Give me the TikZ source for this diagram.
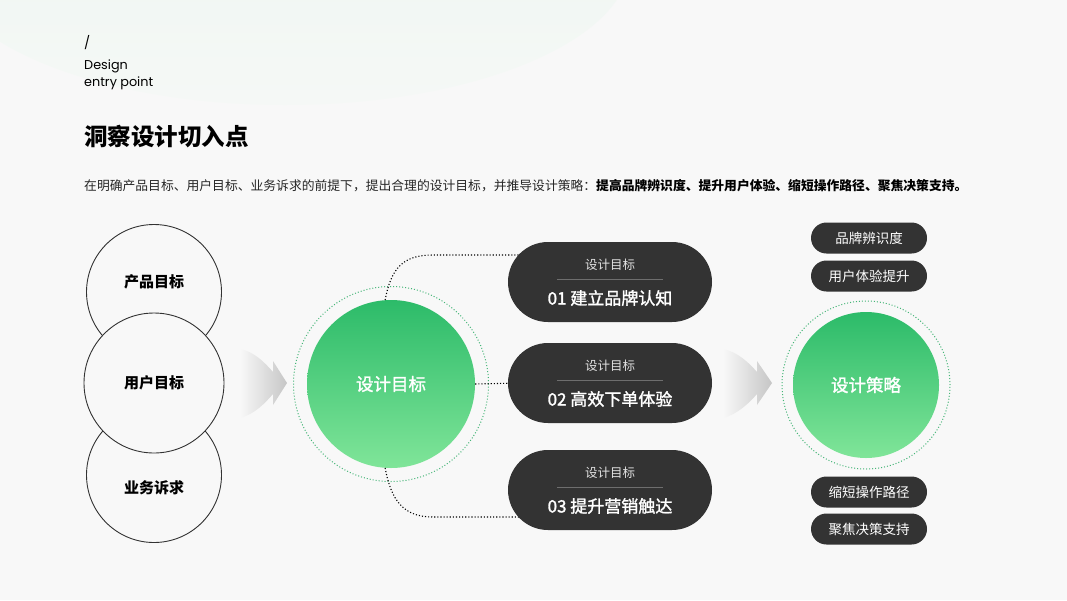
\documentclass[tikz,border=0pt]{standalone}
\usepackage{fontspec}
\setmainfont{Noto Sans CJK SC}
\newfontfamily\enfont{Poppins}
\newfontfamily\medfont{Noto Sans CJK SC}[FakeBold=1.6]
\usetikzlibrary{calc,shapes.misc}
\definecolor{bg}{HTML}{F8F8F8}
\definecolor{pill}{HTML}{333333}
\definecolor{gtop}{HTML}{2CBB69}
\definecolor{gbot}{HTML}{80E599}
\definecolor{ringc}{HTML}{45B577}
\definecolor{blobtop}{HTML}{ECF6EF}
\definecolor{blobbot}{HTML}{F5F8F6}
\definecolor{lc}{HTML}{333333}
\definecolor{pillsub}{HTML}{E2E2E2}
\definecolor{sepc}{HTML}{6E6E6E}
\definecolor{arrowc}{HTML}{C6C6C6}
\begin{document}
\begin{tikzpicture}[x=1pt,y=-1pt,
  lcircle/.style={circle, draw=lc, line width=0.9pt, minimum size=135pt, inner sep=0pt},
  ltext/.style={font=\fontsize{15}{18}\selectfont\bfseries, text=black},
  gcircle/.style={circle, inner sep=0pt, top color=gtop, bottom color=gbot, draw=none, text=white, font=\fontsize{17.5}{20}\selectfont\medfont},
  gring/.style={circle, inner sep=0pt, draw=ringc, dotted, line width=1pt},
  bigpill/.style={rounded rectangle, fill=pill, minimum width=204pt, minimum height=80pt, inner sep=0pt},
  pillsmall/.style={text=pillsub, font=\fontsize{12.5}{15}\selectfont},
  pillmain/.style={text=white, font=\fontsize{17}{20}\selectfont\medfont},
  pillsep/.style={draw=sepc, line width=0.6pt},
  tag/.style={rounded rectangle, fill=pill, minimum width=116pt, minimum height=31pt, inner sep=0pt, text=white, font=\fontsize{13.5}{16}\selectfont},
  conn/.style={draw=black, dotted, line width=1.1pt},
  flow/.style={left color=bg, right color=arrowc, draw=none},
  entext/.style={anchor=west, inner sep=0pt, font=\enfont\fontsize{12.8}{14}\selectfont, text=black}
]
\useasboundingbox[fill=bg] (0,0) rectangle (1067,600);
\begin{scope}
\clip (0,0) rectangle (1067,600);
\shade[top color=blobtop, bottom color=blobbot] (285,-40) ellipse [x radius=345, y radius=145];
\end{scope}

% header
\node[entext] (slash) at (84,43) {/};
\node[entext] (design) at (84,66) {Design};
\node[entext] (entry) at (84,83) {entry point};
\node[anchor=west, inner sep=0pt, font=\fontsize{23.5}{27}\selectfont\bfseries] (title) at (84,137) {洞察设计切入点};
\node[anchor=west, inner sep=0pt, font=\fontsize{12.8}{15}\selectfont, text=black!85] (desc) at (84,186) {在明确产品目标、用户目标、业务诉求的前提下，提出合理的设计目标，并推导设计策略：{\bfseries\color{black}提高品牌辨识度、提升用户体验、缩短操作路径、聚焦决策支持。}};

% left circles
\node[lcircle] (c1) at (154,292) {};
\node[lcircle] (c3) at (154,475) {};
\node[lcircle, fill=bg, minimum size=140pt] (c2) at (154,383) {};
\node[ltext] (l1) at (154,282) {产品目标};
\node[ltext] (l2) at (154,383) {用户目标};
\node[ltext] (l3) at (154,488) {业务诉求};

% flow arrows
\shade[flow] (240,349) .. controls (255,352) and (265,363) .. (273,372) -- (273,361) -- (287,383) -- (273,405) -- (273,394) .. controls (265,403) and (255,414) .. (240,418) -- cycle;
\shade[flow] (723,349) .. controls (738,352) and (749,363) .. (757,372) -- (757,361) -- (772,383) -- (757,405) -- (757,394) .. controls (749,403) and (738,414) .. (723,418) -- cycle;

% center circle
\node[gring, minimum size=195pt] (r1) at (391,384) {};
\node[gcircle, minimum size=168pt] (g1) at (391,384) {设计目标};

% pills positions
\coordinate (p1pos) at (610,282);
\coordinate (p2pos) at (610,383);
\coordinate (p3pos) at (610,490);

% connectors
\draw[conn] (g1.94) .. controls +(6,-32) and +(-30,0) .. ($(p1pos)+(-177,-27)$) -- ($(p1pos)+(-80,-27)$);
\draw[conn] (g1.east) -- ($(p2pos)+(-90,0)$);
\draw[conn] (g1.266) .. controls +(6,32) and +(-30,0) .. ($(p3pos)+(-177,27)$) -- ($(p3pos)+(-80,27)$);

% pills
\node[bigpill] (p1) at (p1pos) {};
\node[bigpill] (p2) at (p2pos) {};
\node[bigpill] (p3) at (p3pos) {};
\foreach \p/\t in {p1/01 建立品牌认知, p2/02 高效下单体验, p3/03 提升营销触达}{
  \node[pillsmall] (\p s) at ($(\p)+(0,-17)$) {设计目标};
  \draw[pillsep] ($(\p)+(-53,-3)$) -- ($(\p)+(53,-3)$);
  \node[pillmain] (\p m) at ($(\p)+(0,16)$) {\t};
}

% right circle
\node[gring, minimum size=168pt] (r2) at (866,385) {};
\node[gcircle, minimum size=146pt] (g2) at (866,385) {设计策略};

% tags
\node[tag] (t1) at (869,238) {品牌辨识度};
\node[tag] (t2) at (869,276) {用户体验提升};
\node[tag] (t3) at (869,492) {缩短操作路径};
\node[tag] (t4) at (869,529) {聚焦决策支持};
\end{tikzpicture}
\end{document}
